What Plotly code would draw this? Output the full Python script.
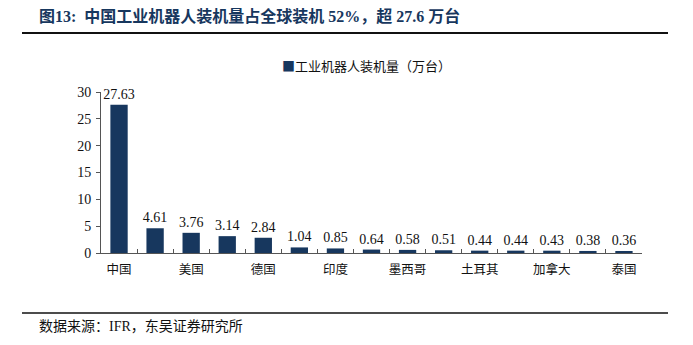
import plotly.graph_objects as go

# Industrial robot installations by country (10k units)
countries = ["中国", "日本", "美国", "韩国", "德国", "意大利", "印度", "法国",
             "墨西哥", "西班牙", "土耳其", "中国台湾", "加拿大", "波兰", "泰国"]
installs = [27.63, 4.61, 3.76, 3.14, 2.84, 1.04, 0.85, 0.64,
            0.58, 0.51, 0.44, 0.44, 0.43, 0.38, 0.36]
y_ticks = [0, 5, 10, 15, 20, 25, 30]
series_name = "工业机器人装机量（万台）"

W, H = 693, 345
L, R, T, B = 101, 51, 92, 92
pw, ph = W - L - R, H - T - B

def px_x(x):
    return (x - L) / pw

def px_y(y):
    return (H - B - y) / ph

NAVY = "#17375e"
SERIF = "Liberation Serif, Noto Sans CJK SC, serif"

fig = go.Figure()
fig.add_trace(go.Bar(
    x=countries,
    y=installs,
    name=series_name,
    marker=dict(color=NAVY, line=dict(width=0)),
    width=0.48,
    text=[f"{v:.2f}" for v in installs],
    textposition="outside",
    constraintext="none",
    textfont=dict(family=SERIF, size=14, color="#111111"),
    cliponaxis=False,
    showlegend=False,
))

fig.update_layout(
    width=W, height=H,
    margin=dict(l=L, r=R, t=T, b=B),
    paper_bgcolor="white",
    plot_bgcolor="white",
    uniformtext=dict(mode=False),
    xaxis=dict(
        type="category",
        tickvals=countries,
        ticktext=[c if i % 2 == 0 else "" for i, c in enumerate(countries)],
        tickson="boundaries",
        tickangle=0,
        ticks="inside", ticklen=4, tickcolor="#555555",
        ticklabelstandoff=5,
        showline=True, linecolor="#555555", linewidth=1,
        showgrid=False,
        tickfont=dict(family=SERIF, size=12.5, color="#111111"),
    ),
    yaxis=dict(
        range=[0, 30],
        tickvals=y_ticks,
        ticks="outside", ticklen=4, tickcolor="#555555",
        ticklabelstandoff=2,
        showline=True, linecolor="#555555", linewidth=1,
        showgrid=False, zeroline=False,
        tickfont=dict(family=SERIF, size=14, color="#111111"),
    ),
    shapes=[
        dict(type="line", xref="paper", yref="paper",
             x0=px_x(22), x1=px_x(668), y0=px_y(33), y1=px_y(33),
             line=dict(color="#111111", width=2)),
        dict(type="line", xref="paper", yref="paper",
             x0=px_x(22), x1=px_x(668), y0=px_y(313), y1=px_y(313),
             line=dict(color="#111111", width=1.5)),
    ],
    annotations=[
        dict(text="<b>图13:  中国工业机器人装机量占全球装机 52%，超 27.6 万台</b>",
             xref="paper", yref="paper", x=px_x(37), y=px_y(16),
             xanchor="left", yanchor="middle", showarrow=False,
             font=dict(family=SERIF, size=16, color=NAVY)),
        dict(text=(f"<span style='color:{NAVY};font-family:Noto Sans CJK SC;"
                   f"font-size:13px'>■</span>{series_name}"),
             xref="paper", yref="paper", x=px_x(280), y=px_y(66),
             xanchor="left", yanchor="middle", showarrow=False,
             font=dict(family=SERIF, size=13, color="#111111")),
        dict(text="数据来源：IFR，东吴证券研究所",
             xref="paper", yref="paper", x=px_x(37), y=px_y(326),
             xanchor="left", yanchor="middle", showarrow=False,
             font=dict(family=SERIF, size=14, color="#111111")),
    ],
)

fig.write_html("out.html")
